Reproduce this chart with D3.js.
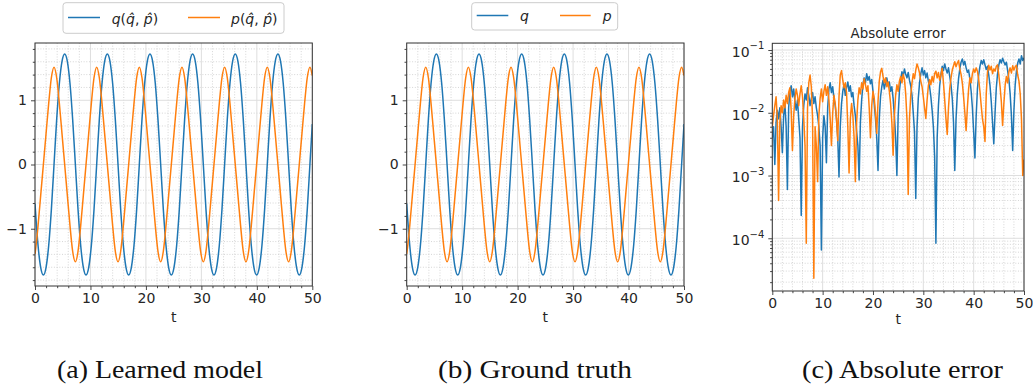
<!DOCTYPE html>
<html><head><meta charset="utf-8">
<script src="https://cdn.jsdelivr.net/npm/d3@7"></script>
<style>body{margin:0;background:#fff}svg{display:block}</style>
</head><body>
<script>
// ---------------- data ----------------
const tTraj = [0, 0.07, 0.55, 1.03, 1.51, 1.99, 2.47, 2.95,
 3.43, 3.91, 4.39, 4.87, 5.35, 5.83, 6.31, 6.79, 7.28, 7.76, 8.24, 8.72, 9.20, 9.68, 10.16, 10.64,
 11.12, 11.60, 12.08, 12.56, 13.04, 13.52, 14.00, 14.48, 14.97, 15.45, 15.93, 16.41, 16.89, 17.37, 17.85, 18.33,
 18.81, 19.29, 19.77, 20.25, 20.73, 21.21, 21.69, 22.17, 22.66, 23.14, 23.62, 24.10, 24.58, 25.06, 25.54, 26.02,
 26.50, 26.98, 27.46, 27.94, 28.42, 28.90, 29.38, 29.86, 30.35, 30.83, 31.31, 31.79, 32.27, 32.75, 33.23, 33.71,
 34.19, 34.67, 35.15, 35.63, 36.11, 36.59, 37.07, 37.55, 38.04, 38.52, 39.00, 39.48, 39.96, 40.44, 40.92, 41.40,
 41.88, 42.36, 42.84, 43.32, 43.80, 44.28, 44.76, 45.24, 45.73, 46.21, 46.69, 47.17, 47.65, 48.13, 48.61, 49.09,
 49.57, 50];

const qTrue = [-0.61, -0.702, -1.261, -1.605, -1.72, -1.605, -1.261, -0.702,
 0, 0.702, 1.261, 1.605, 1.72, 1.605, 1.261, 0.702, 0, -0.702, -1.261, -1.605, -1.72, -1.605, -1.261, -0.702,
 0, 0.702, 1.261, 1.605, 1.72, 1.605, 1.261, 0.702, 0, -0.702, -1.261, -1.605, -1.72, -1.605, -1.261, -0.702,
 0, 0.702, 1.261, 1.605, 1.72, 1.605, 1.261, 0.702, 0, -0.702, -1.261, -1.605, -1.72, -1.605, -1.261, -0.702,
 0, 0.702, 1.261, 1.605, 1.72, 1.605, 1.261, 0.702, 0, -0.702, -1.261, -1.605, -1.72, -1.605, -1.261, -0.702,
 0, 0.702, 1.261, 1.605, 1.72, 1.605, 1.261, 0.702, 0, -0.702, -1.261, -1.605, -1.72, -1.605, -1.261, -0.702,
 0, 0.702, 1.261, 1.605, 1.72, 1.605, 1.261, 0.702, 0, -0.702, -1.261, -1.605, -1.72, -1.605, -1.261, -0.702,
 0, 0.63];

const pTrue = [-1.393, -1.351, -0.952, -0.477, 0, 0.477, 0.952, 1.351,
 1.516, 1.351, 0.952, 0.477, 0, -0.477, -0.952, -1.351, -1.516, -1.351, -0.952, -0.477, 0, 0.477, 0.952, 1.351,
 1.516, 1.351, 0.952, 0.477, 0, -0.477, -0.952, -1.351, -1.516, -1.351, -0.952, -0.477, 0, 0.477, 0.952, 1.351,
 1.516, 1.351, 0.952, 0.477, 0, -0.477, -0.952, -1.351, -1.516, -1.351, -0.952, -0.477, 0, 0.477, 0.952, 1.351,
 1.516, 1.351, 0.952, 0.477, 0, -0.477, -0.952, -1.351, -1.516, -1.351, -0.952, -0.477, 0, 0.477, 0.952, 1.351,
 1.516, 1.351, 0.952, 0.477, 0, -0.477, -0.952, -1.351, -1.516, -1.351, -0.952, -0.477, 0, 0.477, 0.952, 1.351,
 1.516, 1.351, 0.952, 0.477, 0, -0.477, -0.952, -1.351, -1.516, -1.351, -0.952, -0.477, 0, 0.477, 0.952, 1.351,
 1.516, 1.384];

const qLearned = [-0.61, -0.702, -1.261, -1.605, -1.72, -1.605, -1.261, -0.702,
 0, 0.702, 1.261, 1.605, 1.72, 1.605, 1.261, 0.702, 0, -0.702, -1.261, -1.605, -1.72, -1.605, -1.261, -0.702,
 0, 0.702, 1.261, 1.605, 1.72, 1.605, 1.261, 0.702, 0, -0.702, -1.261, -1.605, -1.72, -1.605, -1.261, -0.702,
 0, 0.702, 1.261, 1.605, 1.72, 1.605, 1.261, 0.702, 0, -0.702, -1.261, -1.605, -1.72, -1.605, -1.261, -0.702,
 0, 0.702, 1.261, 1.605, 1.72, 1.605, 1.261, 0.702, 0, -0.702, -1.261, -1.605, -1.72, -1.605, -1.261, -0.702,
 0, 0.702, 1.261, 1.605, 1.72, 1.605, 1.261, 0.702, 0, -0.702, -1.261, -1.605, -1.72, -1.605, -1.261, -0.702,
 0, 0.702, 1.261, 1.605, 1.72, 1.605, 1.261, 0.702, 0, -0.702, -1.261, -1.605, -1.72, -1.605, -1.261, -0.702,
 0, 0.63];

const pLearned = [-1.393, -1.351, -0.952, -0.477, 0, 0.477, 0.952, 1.351,
 1.516, 1.351, 0.952, 0.477, 0, -0.477, -0.952, -1.351, -1.516, -1.351, -0.952, -0.477, 0, 0.477, 0.952, 1.351,
 1.516, 1.351, 0.952, 0.477, 0, -0.477, -0.952, -1.351, -1.516, -1.351, -0.952, -0.477, 0, 0.477, 0.952, 1.351,
 1.516, 1.351, 0.952, 0.477, 0, -0.477, -0.952, -1.351, -1.516, -1.351, -0.952, -0.477, 0, 0.477, 0.952, 1.351,
 1.516, 1.351, 0.952, 0.477, 0, -0.477, -0.952, -1.351, -1.516, -1.351, -0.952, -0.477, 0, 0.477, 0.952, 1.351,
 1.516, 1.351, 0.952, 0.477, 0, -0.477, -0.952, -1.351, -1.516, -1.351, -0.952, -0.477, 0, 0.477, 0.952, 1.351,
 1.516, 1.351, 0.952, 0.477, 0, -0.477, -0.952, -1.351, -1.516, -1.351, -0.952, -0.477, 0, 0.477, 0.952, 1.351,
 1.516, 1.384];

// absolute error, sampled every 0.25 in t (one row per unit of t)
const errStep = 0.25;
const errQ = [
 0.004, 0.006, 0.0015, 0.007,
 0.011, 0.008, 0.012, 0.006,
 0.0023, 0.009, 0.014, 0.006,
 0.0006, 0.012, 0.022, 0.027,
 0.018, 0.024, 0.015, 0.011,
 0.016, 0.008, 0.004, 0.00023,
 0.006, 0.013, 0.020, 0.016,
 0.025, 0.019, 0.013, 0.017,
 0.021, 0.014, 0.018, 0.012,
 0.009, 0.006, 0.003, 0.000065,
 0.004, 0.009, 0.006, 0.0016,
 0.012, 0.024, 0.030, 0.021,
 0.026, 0.017, 0.013, 0.008,
 0.004, 0.00095, 0.006, 0.014,
 0.022, 0.028, 0.019, 0.025,
 0.031, 0.022, 0.027, 0.018,
 0.021, 0.013, 0.009, 0.005,
 0.003, 0.00085, 0.007, 0.016,
 0.028, 0.036, 0.030, 0.042,
 0.033, 0.038, 0.029, 0.034,
 0.022, 0.014, 0.008, 0.004,
 0.0012, 0.008, 0.018, 0.026,
 0.033, 0.024, 0.030, 0.036,
 0.027, 0.031, 0.022, 0.026,
 0.017, 0.009, 0.004, 0.0010,
 0.009, 0.022, 0.034, 0.045,
 0.038, 0.050, 0.041, 0.036,
 0.044, 0.033, 0.027, 0.019,
 0.010, 0.005, 0.00043, 0.006,
 0.017, 0.030, 0.042, 0.052,
 0.040, 0.047, 0.036, 0.043,
 0.032, 0.026, 0.018, 0.011,
 0.006, 0.002, 0.000083, 0.004,
 0.013, 0.027, 0.041, 0.055,
 0.047, 0.060, 0.050, 0.043,
 0.052, 0.038, 0.028, 0.017,
 0.007, 0.0012, 0.008, 0.020,
 0.035, 0.050, 0.064, 0.072,
 0.058, 0.066, 0.052, 0.044,
 0.048, 0.034, 0.022, 0.012,
 0.005, 0.0019, 0.009, 0.024,
 0.040, 0.055, 0.068, 0.060,
 0.070, 0.058, 0.049, 0.055,
 0.040, 0.027, 0.015, 0.007,
 0.0032, 0.010, 0.025, 0.042,
 0.058, 0.070, 0.062, 0.074,
 0.065, 0.058, 0.064, 0.047,
 0.034, 0.020, 0.009, 0.0025,
 0.011, 0.028, 0.046, 0.062,
 0.072, 0.060, 0.081, 0.068,
 0.075];

const errP = [
 0.006, 0.009, 0.013, 0.018,
 0.008, 0.0004, 0.007, 0.013,
 0.010, 0.016, 0.012, 0.019,
 0.014, 0.021, 0.025, 0.011,
 0.0025, 0.009, 0.017, 0.024,
 0.019, 0.013, 0.020, 0.027,
 0.018, 0.008, 0.003, 0.000083,
 0.012, 0.030, 0.040, 0.026,
 0.008, 0.000023, 0.006, 0.003,
 0.0008, 0.009, 0.017, 0.024,
 0.015, 0.022, 0.028, 0.019,
 0.026, 0.016, 0.008, 0.003,
 0.010, 0.019, 0.014, 0.008,
 0.0036, 0.018, 0.040, 0.047,
 0.033, 0.025, 0.030, 0.021,
 0.006, 0.0011, 0.008, 0.014,
 0.009, 0.004, 0.0008, 0.007,
 0.016, 0.025, 0.020, 0.030,
 0.024, 0.035, 0.028, 0.022,
 0.027, 0.012, 0.004, 0.013,
 0.022, 0.017, 0.010, 0.0047,
 0.015, 0.032, 0.045, 0.051,
 0.038, 0.030, 0.036, 0.026,
 0.031, 0.022, 0.014, 0.007,
 0.0021, 0.009, 0.019, 0.028,
 0.022, 0.032, 0.038, 0.030,
 0.041, 0.034, 0.020, 0.008,
 0.0005, 0.008, 0.019, 0.030,
 0.042, 0.035, 0.048, 0.060,
 0.052, 0.043, 0.032, 0.026,
 0.018, 0.012, 0.0081, 0.016,
 0.027, 0.034, 0.028, 0.038,
 0.031, 0.042, 0.046, 0.036,
 0.044, 0.033, 0.040, 0.051,
 0.030, 0.016, 0.008, 0.0045,
 0.012, 0.024, 0.036, 0.048,
 0.056, 0.065, 0.054, 0.062,
 0.068, 0.050, 0.041, 0.030,
 0.018, 0.010, 0.0052, 0.012,
 0.024, 0.036, 0.030, 0.042,
 0.050, 0.044, 0.052, 0.046,
 0.034, 0.022, 0.013, 0.008,
 0.006, 0.0035, 0.020, 0.045,
 0.057, 0.048, 0.055, 0.042,
 0.050, 0.046, 0.055, 0.058,
 0.040, 0.026, 0.015, 0.0063,
 0.014, 0.027, 0.038, 0.030,
 0.045, 0.052, 0.043, 0.056,
 0.048, 0.054, 0.057, 0.040,
 0.032, 0.020, 0.008, 0.0010,
 0.0018];

const xTicks = [0, 10, 20, 30, 40, 50];
const xMinorTicks = [2,4,6,8,12,14,16,18,22,24,26,28,32,34,36,38,42,44,46,48];
const yTicks = [-1, 0, 1];
const yMinorTicks = [-1.8,-1.6,-1.4,-1.2,-0.8,-0.6,-0.4,-0.2,0.2,0.4,0.6,0.8,1.2,1.4,1.6,1.8];
const logTicks = [1e-4, 1e-3, 1e-2, 1e-1];
const logExponents = ["\u22124", "\u22123", "\u22122", "\u22121"];
const logMinorTicks = [2e-5,3e-5,4e-5,5e-5,6e-5,7e-5,8e-5,9e-5,
 2e-4,3e-4,4e-4,5e-4,6e-4,7e-4,8e-4,9e-4,
 2e-3,3e-3,4e-3,5e-3,6e-3,7e-3,8e-3,9e-3,
 2e-2,3e-2,4e-2,5e-2,6e-2,7e-2,8e-2,9e-2];
const captions = ["(a) Learned model", "(b) Ground truth", "(c) Absolute error"];

// ---------------- drawing ----------------
const W = 1033, H = 392;
const C1 = "#1f77b4", C2 = "#ff7f0e";
const F = "DejaVu Sans, Verdana, sans-serif";
const svg = d3.select("body").append("svg").attr("width", W).attr("height", H);
let clipN = 0;

function drawFrame(g, x, y, xMaj, xMin, yMaj, yMin) {
  const [l, r] = x.range(), [b, t] = y.range();
  // minor grid (dotted)
  g.append("g").selectAll("line").data(xMin).join("line")
    .attr("x1", d => x(d)).attr("x2", d => x(d)).attr("y1", t).attr("y2", b)
    .attr("stroke", "#cccccc").attr("stroke-width", 0.8).attr("stroke-dasharray", "1,1.7");
  g.append("g").selectAll("line").data(yMin).join("line")
    .attr("y1", d => y(d)).attr("y2", d => y(d)).attr("x1", l).attr("x2", r)
    .attr("stroke", "#cccccc").attr("stroke-width", 0.8).attr("stroke-dasharray", "1,1.7");
  // major grid
  g.append("g").selectAll("line").data(xMaj).join("line")
    .attr("x1", d => x(d)).attr("x2", d => x(d)).attr("y1", t).attr("y2", b)
    .attr("stroke", "#dedede").attr("stroke-width", 1);
  g.append("g").selectAll("line").data(yMaj).join("line")
    .attr("y1", d => y(d)).attr("y2", d => y(d)).attr("x1", l).attr("x2", r)
    .attr("stroke", "#dedede").attr("stroke-width", 1);
}

function drawAxes(g, x, y, xMaj, xMin, yMaj, yMin, yFormat) {
  const [l, r] = x.range(), [b, t] = y.range();
  const styleAx = s => {
    s.select(".domain").remove();
    s.selectAll(".tick line").attr("stroke", "#333").attr("stroke-width", 0.9);
    s.selectAll(".tick text").attr("font-family", F).attr("font-size", 14).attr("fill", "#262626");
  };
  g.append("g").attr("transform", `translate(0,${b})`)
    .call(d3.axisBottom(x).tickValues(xMin).tickSize(2.2).tickFormat("").tickSizeOuter(0)).call(styleAx);
  g.append("g").attr("transform", `translate(0,${b})`)
    .call(d3.axisBottom(x).tickValues(xMaj).tickSize(4).tickPadding(3.5).tickSizeOuter(0)).call(styleAx);
  g.append("g").attr("transform", `translate(${l},0)`)
    .call(d3.axisLeft(y).tickValues(yMin).tickSize(2.2).tickFormat("").tickSizeOuter(0)).call(styleAx);
  const ya = g.append("g").attr("transform", `translate(${l},0)`)
    .call(d3.axisLeft(y).tickValues(yMaj).tickSize(4).tickPadding(4).tickSizeOuter(0).tickFormat(yFormat || d3.format("d"))).call(styleAx);
  g.append("rect").attr("x", l).attr("y", t).attr("width", r - l).attr("height", b - t)
    .attr("fill", "none").attr("stroke", "#333").attr("stroke-width", 1);
  return ya;
}

function clipFor(x, y) {
  const id = "clip" + (clipN++);
  const [l, r] = x.range(), [b, t] = y.range();
  svg.append("clipPath").attr("id", id).append("rect")
    .attr("x", l).attr("y", t).attr("width", r - l).attr("height", b - t);
  return `url(#${id})`;
}

function xLabel(g, x, yPos) {
  const [l, r] = x.range();
  g.append("text").attr("x", (l + r) / 2).attr("y", yPos).attr("text-anchor", "middle")
    .attr("font-family", F).attr("font-size", 14).attr("fill", "#262626").text("t");
}

function trajPanel(left, right, qs, ps, legendFn) {
  const x = d3.scaleLinear().domain([0, 50]).range([left, right]);
  const y = d3.scaleLinear().domain([-1.892, 1.892]).range([286, 43]);
  const g = svg.append("g");
  drawFrame(g, x, y, xTicks, xMinorTicks, yTicks, yMinorTicks);
  const clip = clipFor(x, y);
  const line = vals => d3.line().x((d, i) => x(tTraj[i])).y(d => y(d)).curve(d3.curveMonotoneX)(vals);
  const lg = g.append("g").attr("clip-path", clip);
  lg.append("path").attr("d", line(qs)).attr("fill", "none").attr("stroke", C1).attr("stroke-width", 1.5);
  lg.append("path").attr("d", line(ps)).attr("fill", "none").attr("stroke", C2).attr("stroke-width", 1.5);
  drawAxes(g, x, y, xTicks, xMinorTicks, yTicks, yMinorTicks, d3.format("d"));
  xLabel(g, x, 321.5);
  legendFn(g);
}

function legendBox(g, x0, x1, y0, y1) {
  g.append("rect").attr("x", x0).attr("y", y0).attr("width", x1 - x0).attr("height", y1 - y0)
    .attr("rx", 3).attr("fill", "#fff").attr("fill-opacity", 0.8).attr("stroke", "#cccccc").attr("stroke-width", 1);
}
function legendLine(g, x0, x1, yy, c) {
  g.append("line").attr("x1", x0).attr("x2", x1).attr("y1", yy).attr("y2", yy)
    .attr("stroke", c).attr("stroke-width", 1.5);
}
function mathLabel(g, xx, yy, parts) {
  const t = g.append("text").attr("x", xx).attr("y", yy).attr("font-family", F)
    .attr("font-size", 14).attr("fill", "#262626");
  parts.forEach(([s, it]) => t.append("tspan").attr("font-style", it ? "italic" : "normal").text(s));
}

// panel (a)
trajPanel(35, 312.3, qLearned, pLearned, g => {
  legendBox(g, 63, 284, 2.7, 33.3);
  legendLine(g, 68, 100, 17.5, C1);
  mathLabel(g, 111.7, 24.3, [["q", 1], ["(", 0], ["q\u0302", 1], [", ", 0], ["p\u0302", 1], [")", 0]]);
  legendLine(g, 188, 220, 17.5, C2);
  mathLabel(g, 231, 24.3, [["p", 1], ["(", 0], ["q\u0302", 1], [", ", 0], ["p\u0302", 1], [")", 0]]);
});

// panel (b)
trajPanel(406.7, 684, qTrue, pTrue, g => {
  legendBox(g, 471.7, 617.7, 2.7, 30);
  legendLine(g, 476.7, 508.3, 15.5, C1);
  mathLabel(g, 520, 20.5, [["q", 1]]);
  legendLine(g, 560, 590.7, 15.5, C2);
  mathLabel(g, 602.7, 20.5, [["p", 1]]);
});

// panel (c)
(function () {
  const x = d3.scaleLinear().domain([0, 50]).range([772.3, 1024]);
  const y = d3.scaleLog().domain([1.445e-5, 0.128]).range([291, 43.3]);
  const g = svg.append("g");
  drawFrame(g, x, y, xTicks, xMinorTicks, logTicks, logMinorTicks);
  const clip = clipFor(x, y);
  const line = d3.line().x((d, i) => x(i * errStep)).y(d => y(d));
  const lg = g.append("g").attr("clip-path", clip);
  lg.append("path").attr("d", line(errQ)).attr("fill", "none").attr("stroke", C1).attr("stroke-width", 1.5).attr("stroke-linejoin", "round");
  lg.append("path").attr("d", line(errP)).attr("fill", "none").attr("stroke", C2).attr("stroke-width", 1.5).attr("stroke-linejoin", "round");
  const ya = drawAxes(g, x, y, xTicks, xMinorTicks, logTicks, logMinorTicks, () => "10");
  ya.selectAll(".tick text").each(function (d, i) {
    const t = d3.select(this);
    t.text(null).attr("dy", "0.45em");
    t.append("tspan").text("10");
    t.append("tspan").attr("font-size", 10).attr("dy", "-0.75em").text(logExponents[logTicks.indexOf(d)]);
  });
  xLabel(g, x, 324);
  g.append("text").attr("x", (772.3 + 1024) / 2).attr("y", 38).attr("text-anchor", "middle")
    .attr("font-family", F).attr("font-size", 13.4).attr("fill", "#262626").text("Absolute error");
})();

// captions
const capX = [57, 438, 802], capW = [206, 194, 201];
captions.forEach((c, i) => {
  svg.append("text").attr("x", capX[i]).attr("y", 378).attr("font-family", "Liberation Serif, Times New Roman, serif")
    .attr("font-size", 25).attr("fill", "#111").attr("textLength", capW[i])
    .attr("lengthAdjust", "spacingAndGlyphs").text(c);
});
</script>
</body></html>
